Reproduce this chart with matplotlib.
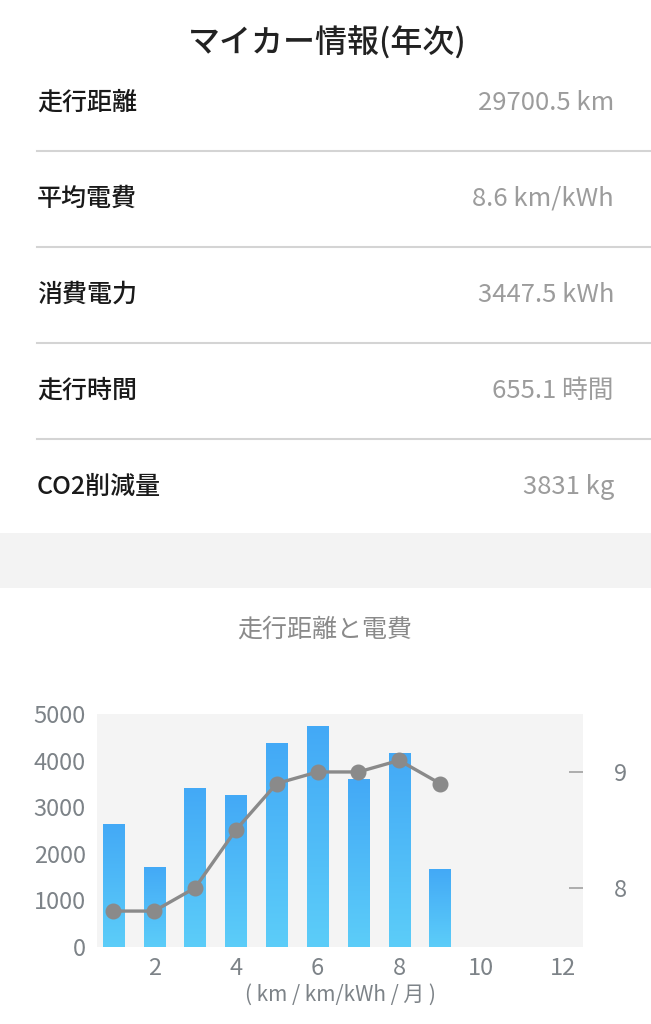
import numpy as np
import matplotlib.pyplot as plt
from matplotlib.colors import LinearSegmentedColormap

plt.rcParams['font.family'] = ['Noto Sans CJK JP', 'DejaVu Sans']

# summary rows
row_labels = ["走行距離", "平均電費", "消費電力", "走行時間", "CO2削減量"]
row_values = ["29700.5 km", "8.6 km/kWh", "3447.5 kWh", "655.1 時間", "3831 kg"]

# monthly chart data
months = [1, 2, 3, 4, 5, 6, 7, 8, 9]
distance = [2640, 1720, 3410, 3260, 4380, 4740, 3600, 4160, 1670]
efficiency = [7.8, 7.8, 8.0, 8.5, 8.9, 9.0, 9.0, 9.1, 8.9]
left_ticks = [0, 1000, 2000, 3000, 4000, 5000]
right_ticks = [8, 9]
x_ticks = [2, 4, 6, 8, 10, 12]

W, H = 651, 1024
fig = plt.figure(figsize=(W / 100, H / 100), dpi=100)
fig.patch.set_facecolor("white")

def fy(y):
    return 1 - y / H

fig.text(327 / W, fy(43), "マイカー情報(年次)", ha="center", va="center",
         fontsize=23, fontweight="medium", color="#222222")

row_y = [103, 199, 295, 391, 487]
for lab, val, y in zip(row_labels, row_values, row_y):
    fig.text(37 / W, fy(y), lab, ha="left", va="center", fontsize=18,
             fontweight="medium", color="#1a1a1a")
    fig.text(614 / W, fy(y), val, ha="right", va="center", fontsize=18.5, color="#9c9c9c")
for y in [151, 247, 343, 439]:
    fig.add_artist(plt.Line2D([37 / W, 1], [fy(y), fy(y)], color="#d4d4d4", lw=1.5))

# grey band
fig.add_artist(plt.Rectangle((0, fy(588)), 1, (588 - 533) / H, color="#f3f3f3", lw=0))

fig.text(325 / W, fy(630), "走行距離と電費", ha="center", va="center",
         fontsize=18, color="#8a8a8a")

ax = fig.add_axes([97 / W, fy(947), (583 - 97) / W, (947 - 714) / H])
ax.set_facecolor("#f4f4f4")

cmap = LinearSegmentedColormap.from_list("bars", ["#5ccdf9", "#43a9f6"])
grad = np.linspace(0, 1, 256).reshape(-1, 1)
bars = ax.bar(months, distance, width=0.52, color="none", zorder=2)
for b in bars:
    x0, w, h = b.get_x(), b.get_width(), b.get_height()
    im = ax.imshow(grad, cmap=cmap, origin="lower", aspect="auto",
                   extent=[x0, x0 + w, 0, h], zorder=2)
    im.set_clip_path(b)
ax.set_xlim(0.6, 12.5)
ax.set_ylim(0, 5000)

for s in ax.spines.values():
    s.set_visible(False)
ax.set_yticks(left_ticks)
ax.set_xticks(x_ticks)
ax.tick_params(axis="both", length=0, labelsize=17, labelcolor="#7d8388")
ax.tick_params(axis="y", pad=8)
ax.tick_params(axis="x", pad=7)
ax.set_xlabel("( km / km/kWh / 月 )", fontsize=15, color="#7d8388", labelpad=3)

ax2 = ax.twinx()
ax2.set_ylim(7.49, 9.5)
ax2.plot(months, efficiency, color="#8a8a8a", lw=2.4, marker="o", markersize=10.5, zorder=3)
for s in ax2.spines.values():
    s.set_visible(False)
ax2.set_yticks(right_ticks)
ax2.tick_params(axis="y", direction="in", length=10, width=1.2, color="#a0a0a0",
                pad=22, labelsize=17, labelcolor="#7d8388")

fig.savefig("out.png", dpi=100)
